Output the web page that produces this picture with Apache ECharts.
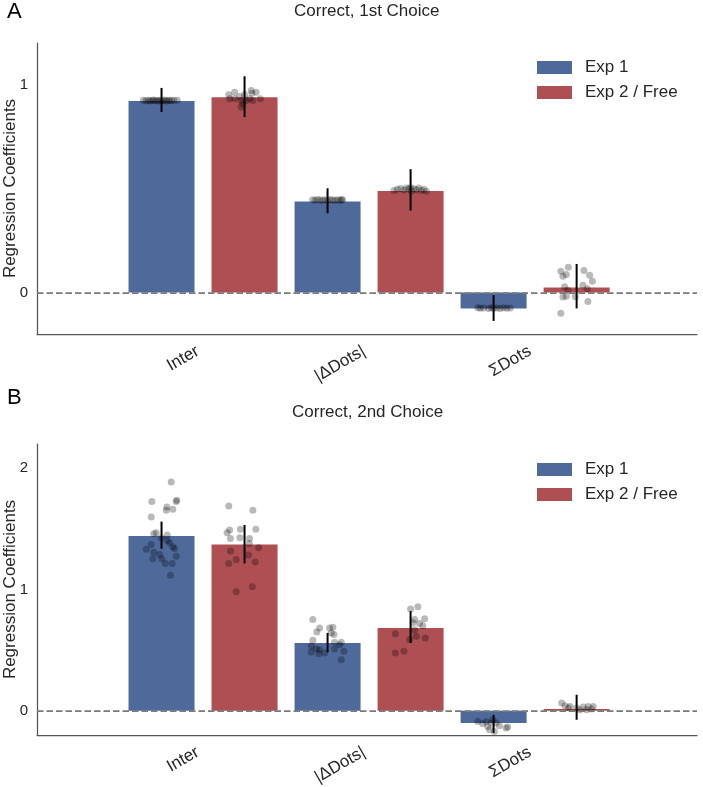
<!DOCTYPE html>
<html>
<head>
<meta charset="utf-8">
<script src="https://cdn.jsdelivr.net/npm/echarts@6/dist/echarts.min.js"></script>
<style>
html,body{margin:0;padding:0;background:#fff;}
#c{width:703px;height:787px;}
</style>
</head>
<body>
<div id="c"></div>
<script>
// ---------- DATA ----------
const categories = ['Inter', '|ΔDots|', 'ΣDots'];
const seriesNames = ['Exp 1', 'Exp 2 / Free'];
const titles = ['Correct, 1st Choice', 'Correct, 2nd Choice'];
const panelLetters = ['A', 'B'];
const yTicksA = [0, 1];
const yTicksB = [0, 1, 2];

// Panel A bar means
const A_exp1 = [0.921, 0.438, -0.077];
const A_exp2 = [0.939, 0.488, 0.024];
// Panel A error bars [low, high]
const A_exp1_err = [[0.868, 0.984], [0.381, 0.501], [-0.137, -0.013]];
const A_exp2_err = [[0.844, 1.040], [0.394, 0.593], [-0.077, 0.137]];

// Panel B bar means
const B_exp1 = [1.441, 0.559, -0.100];
const B_exp2 = [1.372, 0.683, 0.015];
const B_exp1_err = [[1.336, 1.560], [0.482, 0.642], [-0.184, -0.033]];
const B_exp2_err = [[1.215, 1.532], [0.559, 0.821], [-0.074, 0.132]];

// Individual points: [jitter offset, value]
const A_inter_e1 = [[-0.22,0.924],[-0.19,0.922],[-0.16,0.925],[-0.14,0.921],[-0.12,0.923],[-0.10,0.926],[-0.08,0.922],[-0.06,0.924],[-0.04,0.921],[-0.02,0.925],[0.0,0.923],[0.02,0.922],[0.04,0.926],[0.06,0.921],[0.08,0.924],[0.10,0.922],[0.12,0.925],[0.15,0.923],[0.19,0.924]];
const A_inter_e2 = [[-0.19,0.951],[-0.12,0.963],[-0.06,0.943],[0.0,0.952],[0.08,0.971],[0.09,0.958],[0.06,0.932],[-0.18,0.932],[-0.12,0.932],[-0.04,0.923],[-0.02,0.908],[-0.04,0.892],[0.02,0.923],[0.10,0.923],[0.19,0.932],[0.14,0.963]];
const A_delta_e1 = [[-0.18,0.446],[-0.15,0.444],[-0.12,0.447],[-0.09,0.445],[-0.06,0.443],[-0.03,0.446],[0.0,0.444],[0.03,0.447],[0.06,0.445],[0.09,0.443],[0.12,0.446],[0.15,0.444],[0.18,0.445],[0.17,0.447]];
const A_delta_e2 = [[-0.2,0.490],[-0.16,0.496],[-0.12,0.500],[-0.08,0.493],[-0.05,0.503],[-0.02,0.497],[0.01,0.488],[0.04,0.499],[0.07,0.494],[0.1,0.502],[0.13,0.490],[0.16,0.496],[0.19,0.487],[0.0,0.505]];
const A_sum_e1 = [[-0.19,-0.074],[-0.16,-0.076],[-0.12,-0.075],[-0.06,-0.077],[-0.03,-0.074],[0.0,-0.076],[0.04,-0.075],[0.08,-0.077],[0.12,-0.074],[0.16,-0.076],[0.2,-0.075]];
const A_sum_e2 = [[-0.19,0.102],[-0.10,0.121],[-0.165,0.078],[-0.124,0.086],[0.088,0.105],[0.157,0.083],[0.19,0.054],[0.076,0.035],[0.129,0.018],[-0.145,0.027],[-0.105,0.010],[-0.124,-0.018],[-0.165,-0.022],[-0.016,-0.021],[0.136,-0.044],[-0.19,-0.100]];

const B_inter_e1 = [[0.117,1.887],[-0.117,1.725],[0.184,1.736],[0.177,1.725],[0.064,1.680],[0.136,1.661],[0.057,1.653],[-0.124,1.598],[-0.064,1.468],[-0.093,1.460],[0.069,1.449],[0.069,1.405],[0.096,1.386],[0.136,1.353],[0.157,1.339],[-0.124,1.372],[-0.184,1.331],[-0.093,1.308],[-0.024,1.289],[0.177,1.275],[-0.105,1.254],[0.004,1.254],[0.045,1.215],[0.129,1.215],[0.108,1.118],[-0.004,1.427]];
const B_inter_e2 = [[-0.19,1.688],[0.10,1.653],[-0.18,1.490],[-0.21,1.468],[-0.05,1.496],[0.136,1.496],[-0.17,1.421],[-0.057,1.427],[0.06,1.421],[0.057,1.380],[0.169,1.344],[-0.169,1.317],[0.048,1.284],[-0.10,1.248],[-0.19,1.215],[0.129,1.226],[0.093,1.022],[-0.10,0.981]];
const B_delta_e1 = [[-0.177,0.752],[-0.129,0.650],[-0.096,0.683],[0.024,0.683],[0.064,0.689],[0.045,0.642],[0.076,0.628],[-0.177,0.581],[-0.196,0.531],[-0.136,0.512],[-0.096,0.504],[-0.196,0.482],[-0.105,0.471],[-0.036,0.477],[0.084,0.564],[0.165,0.564],[0.084,0.510],[0.196,0.490],[0.165,0.421],[0.145,0.545]];
const B_delta_e2 = [[0.0,0.840],[0.088,0.857],[0.048,0.752],[0.169,0.758],[0.028,0.725],[0.148,0.702],[0.108,0.719],[0.048,0.669],[0.069,0.614],[0.177,0.601],[-0.184,0.636],[-0.012,0.587],[-0.184,0.477],[-0.081,0.490]];
const B_sum_e1 = [[-0.19,-0.088],[-0.13,-0.107],[-0.07,-0.130],[-0.05,-0.157],[-0.01,-0.074],[0.03,-0.102],[0.01,-0.171],[0.07,-0.124],[0.15,-0.143],[0.17,-0.135],[-0.09,-0.088],[-0.03,-0.102]];
const B_sum_e2 = [[-0.18,0.064],[-0.14,0.041],[-0.08,0.036],[0.0,0.022],[0.08,0.030],[0.14,0.036],[0.2,0.036],[0.04,0.008],[0.12,0.008],[0.18,0.014],[-0.1,0.022]];

// ---------- STYLE ----------
const FONT = 'Liberation Sans, Arial, Helvetica, sans-serif';
const BLUE = '#4e6a9b';
const RED = '#ad4f53';
const TXT = '#262626';

const exp1Pos = [0, 2, 4];
const exp2Pos = [1, 3, 5];
const groupCenters = [0.5, 2.5, 4.5];

function barData(pos, vals){ return vals.map((v,i)=>[pos[i], v]); }
function errData(pos, errs){ return errs.map((e,i)=>[pos[i], e[0], e[1]]); }
function dotData(groups){
  const out = [];
  groups.forEach(g => g.pts.forEach(p => out.push([g.x + p[0], p[1]])));
  return out;
}

const chart = echarts.init(document.getElementById('c'), null, {renderer:'canvas'});

function xAxisCfg(gi){
  return {
    type:'value', gridIndex:gi, min:-1.5, max:6.45,
    axisLine:{show:true, onZero:false, lineStyle:{color:'#555', width:1.25}},
    axisTick:{show:false}, splitLine:{show:false},
    axisLabel:{
      customValues: groupCenters,
      rotate:30, margin:13, fontSize:17, color:TXT, fontFamily:FONT,
      padding:[0,6,0,0],
      formatter: v => categories[Math.round((v-0.5)/2)] || ''
    }
  };
}
function yAxisCfg(gi, max, ticks){
  return {
    type:'value', gridIndex:gi, min:-0.2, max:max,
    name:'Regression Coefficients', nameLocation:'middle', nameGap:18, nameMoveOverlap:false,
    nameTextStyle:{fontSize:17, color:TXT, fontFamily:FONT},
    axisLine:{show:true, onZero:false, lineStyle:{color:'#555', width:1.25}},
    axisTick:{show:false}, splitLine:{show:false},
    axisLabel:{customValues:ticks, margin:9, fontSize:15, color:TXT, fontFamily:FONT}
  };
}

function errSeries(gi, data){
  return {
    type:'custom', xAxisIndex:gi, yAxisIndex:gi, z:4, silent:true,
    data:data, encode:{x:0, y:[1,2]},
    renderItem:function(params, api){
      const a = api.coord([api.value(0), api.value(1)]);
      const b = api.coord([api.value(0), api.value(2)]);
      return {type:'line', shape:{x1:a[0], y1:a[1], x2:b[0], y2:b[1]},
              style:{stroke:'#000', lineWidth:2}};
    }
  };
}
function dotSeries(gi, data){
  return {
    type:'scatter', xAxisIndex:gi, yAxisIndex:gi, z:5, silent:true,
    symbolSize:7, itemStyle:{color:'rgba(0,0,0,0.34)'}, data:data
  };
}
function barSeries(gi, name, color, data, withZero){
  const s = {
    type:'bar', name:name, xAxisIndex:gi, yAxisIndex:gi, barWidth:66, barGap:'-100%',
    itemStyle:{color:color}, data:data, z:2, silent:true
  };
  if (withZero) {
    s.markLine = {
      silent:true, symbol:['none','none'], label:{show:false}, z:6,
      lineStyle:{type:[6.5,3], color:'#7a7a7a', width:1.75},
      data:[{yAxis:0}]
    };
  }
  return s;
}
function legendCfg(top){
  return {
    orient:'vertical', left:537, top:top, padding:0, itemWidth:35, itemHeight:13, itemGap:8,
    icon:'rect', data:seriesNames, selectedMode:false,
    textStyle:{fontSize:17, color:TXT, fontFamily:FONT, padding:[0,0,0,8]}
  };
}

const option = {
  animation:false,
  backgroundColor:'#fff',
  title:[
    {text:titles[0], left:294, top:3, padding:0, textStyle:{fontSize:17, fontWeight:'normal', color:TXT, fontFamily:FONT}},
    {text:titles[1], left:292, top:404, padding:0, textStyle:{fontSize:17, fontWeight:'normal', color:TXT, fontFamily:FONT}}
  ],
  graphic:[
    {type:'text', left:7, top:1, style:{text:panelLetters[0], fontSize:22, fill:'#000', fontFamily:FONT}},
    {type:'text', left:7, top:387, style:{text:panelLetters[1], fontSize:22, fill:'#000', fontFamily:FONT}}
  ],
  legend:[legendCfg(59), legendCfg(461)],
  grid:[
    {left:37, top:43, width:660, height:291, containLabel:false, outerBoundsMode:'none'},
    {left:37, top:444, width:660, height:291, containLabel:false, outerBoundsMode:'none'}
  ],
  xAxis:[xAxisCfg(0), xAxisCfg(1)],
  yAxis:[yAxisCfg(0, 1.2, yTicksA), yAxisCfg(1, 2.2, yTicksB)],
  series:[
    barSeries(0, seriesNames[0], BLUE, barData(exp1Pos, A_exp1), true),
    barSeries(0, seriesNames[1], RED, barData(exp2Pos, A_exp2), false),
    errSeries(0, errData(exp1Pos, A_exp1_err).concat(errData(exp2Pos, A_exp2_err))),
    dotSeries(0, dotData([
      {x:exp1Pos[0], pts:A_inter_e1},{x:exp2Pos[0], pts:A_inter_e2},
      {x:exp1Pos[1], pts:A_delta_e1},{x:exp2Pos[1], pts:A_delta_e2},
      {x:exp1Pos[2], pts:A_sum_e1},{x:exp2Pos[2], pts:A_sum_e2}
    ])),
    barSeries(1, seriesNames[0], BLUE, barData(exp1Pos, B_exp1), true),
    barSeries(1, seriesNames[1], RED, barData(exp2Pos, B_exp2), false),
    errSeries(1, errData(exp1Pos, B_exp1_err).concat(errData(exp2Pos, B_exp2_err))),
    dotSeries(1, dotData([
      {x:exp1Pos[0], pts:B_inter_e1},{x:exp2Pos[0], pts:B_inter_e2},
      {x:exp1Pos[1], pts:B_delta_e1},{x:exp2Pos[1], pts:B_delta_e2},
      {x:exp1Pos[2], pts:B_sum_e1},{x:exp2Pos[2], pts:B_sum_e2}
    ]))
  ]
};
chart.setOption(option);
</script>
</body>
</html>
